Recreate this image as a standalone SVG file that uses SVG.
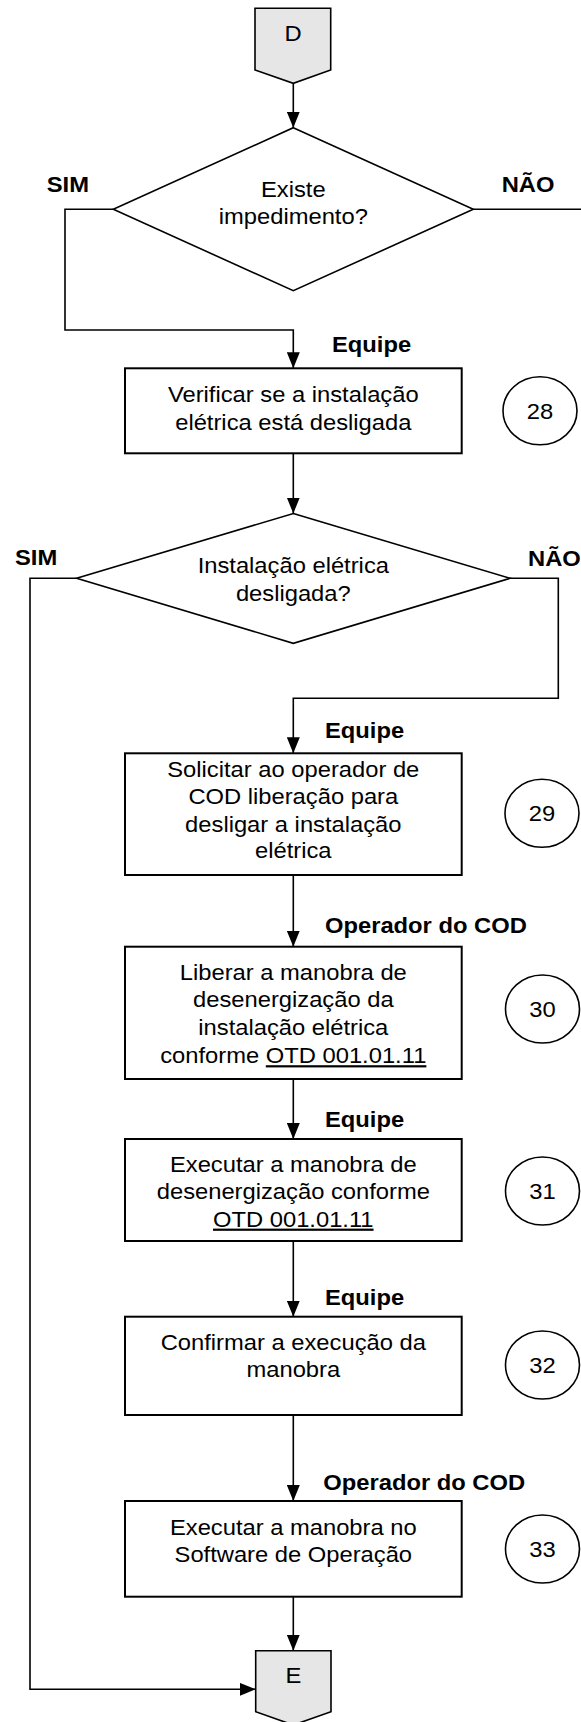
<svg xmlns="http://www.w3.org/2000/svg" width="581" height="1722" viewBox="0 0 581 1722">
<style>
.bg{fill:#ffffff}
.box{fill:#ffffff;stroke:#000;stroke-width:2}
.dia{fill:#ffffff;stroke:#000;stroke-width:1.6}
.off{fill:#e6e6e6;stroke:#000;stroke-width:1.6}
.num{fill:#ffffff;stroke:#000;stroke-width:1.6}
.ln{fill:none;stroke:#000;stroke-width:1.6}
.t{font-family:"Liberation Sans",Arial,sans-serif;font-size:22px;fill:#000;text-anchor:middle}
.b{font-family:"Liberation Sans",Arial,sans-serif;font-size:22px;font-weight:bold;fill:#000}
.u{text-decoration:underline}
</style>
<defs>
<marker id="ah" markerUnits="userSpaceOnUse" markerWidth="16" markerHeight="13" refX="16" refY="6.5" orient="auto">
<path d="M0,0 L16,6.5 L0,13 Z" fill="#000"/>
</marker>
</defs>
<rect class="bg" x="0" y="0" width="581" height="1722"/>

<g id="connectors">
<path class="ln" d="M293.3,83.3 V127.7" marker-end="url(#ah)"/>
<path class="ln" d="M113.3,209.3 H65 V330 H293.3 V368.3" marker-end="url(#ah)"/>
<path class="ln" d="M473.3,209.3 H581"/>
<path class="ln" d="M293.3,453.3 V513.5" marker-end="url(#ah)"/>
<path class="ln" d="M510,578.3 H558.3 V698.3 H293.3 V753.3" marker-end="url(#ah)"/>
<path class="ln" d="M293.3,875 V946.7" marker-end="url(#ah)"/>
<path class="ln" d="M293.3,1079 V1139" marker-end="url(#ah)"/>
<path class="ln" d="M293.3,1241 V1316.7" marker-end="url(#ah)"/>
<path class="ln" d="M293.3,1415 V1501" marker-end="url(#ah)"/>
<path class="ln" d="M293.3,1596.7 V1650.7" marker-end="url(#ah)"/>
<path class="ln" d="M76.6,578.3 H30 V1689.3 H255.7" marker-end="url(#ah)"/>
</g>

<g id="labels">
<text class="b" transform="translate(46.7 0) scale(1.08 1)" x="0" y="192">SIM</text>
<text class="b" transform="translate(501.7 0) scale(1.08 1)" x="0" y="192">NÃO</text>
<text class="b" transform="translate(15 0) scale(1.08 1)" x="0" y="565">SIM</text>
<text class="b" transform="translate(528 0) scale(1.08 1)" x="0" y="566">NÃO</text>
<text class="b" transform="translate(332 0) scale(1.08 1)" x="0" y="351.7">Equipe</text>
<text class="b" transform="translate(325 0) scale(1.08 1)" x="0" y="738.3">Equipe</text>
<text class="b" transform="translate(325 0) scale(1.08 1)" x="0" y="933.3">Operador do COD</text>
<text class="b" transform="translate(325 0) scale(1.08 1)" x="0" y="1126.7">Equipe</text>
<text class="b" transform="translate(325 0) scale(1.08 1)" x="0" y="1305">Equipe</text>
<text class="b" transform="translate(323.3 0) scale(1.08 1)" x="0" y="1490">Operador do COD</text>
</g>

<g id="D">
<path class="off" d="M255,8.3 H330.7 V70 L293.3,83.3 L255,70 Z"/>
<text class="t" transform="translate(293 0) scale(1.08 1)" x="0" y="40.7">D</text>
</g>

<g id="dec1">
<path class="dia" d="M293.3,127.7 L473.3,209.3 L293.3,290.7 L113.3,209.3 Z"/>
<text class="t" transform="translate(293.3 0) scale(1.08 1)"><tspan x="0" y="196.7">Existe</tspan><tspan x="0" y="224">impedimento?</tspan></text>
</g>

<g id="step28">
<rect class="box" x="125" y="368.3" width="336.7" height="85"/>
<text class="t" transform="translate(293.3 0) scale(1.08 1)"><tspan x="0" y="402.3">Verificar se a instalação</tspan><tspan x="0" y="429.7">elétrica está desligada</tspan></text>
</g>
<g id="n28">
<ellipse class="num" cx="540" cy="410.8" rx="37" ry="34"/>
<text class="t" transform="translate(540 0) scale(1.08 1)" x="0" y="418.8">28</text>
</g>

<g id="dec2">
<path class="dia" d="M293.3,513.5 L510,578.3 L293.3,643.3 L76.6,578.3 Z"/>
<text class="t" transform="translate(293.3 0) scale(1.08 1)"><tspan x="0" y="573.3">Instalação elétrica</tspan><tspan x="0" y="601">desligada?</tspan></text>
</g>

<g id="step29">
<rect class="box" x="125" y="753.3" width="336.7" height="121.7"/>
<text class="t" transform="translate(293.3 0) scale(1.08 1)"><tspan x="0" y="776.7">Solicitar ao operador de</tspan><tspan x="0" y="804">COD liberação para</tspan><tspan x="0" y="831.7">desligar a instalação</tspan><tspan x="0" y="858.3">elétrica</tspan></text>
</g>
<g id="n29">
<ellipse class="num" cx="542" cy="813.3" rx="37" ry="34"/>
<text class="t" transform="translate(542 0) scale(1.08 1)" x="0" y="821.3">29</text>
</g>

<g id="step30">
<rect class="box" x="125" y="946.7" width="336.7" height="132.3"/>
<text class="t" transform="translate(293.3 0) scale(1.08 1)"><tspan x="0" y="980">Liberar a manobra de</tspan><tspan x="0" y="1007.3">desenergização da</tspan><tspan x="0" y="1035">instalação elétrica</tspan><tspan x="0" y="1063.3">conforme <tspan class="u">OTD 001.01.11</tspan></tspan></text>
</g>
<g id="n30">
<ellipse class="num" cx="542.5" cy="1009" rx="37" ry="34"/>
<text class="t" transform="translate(542.5 0) scale(1.08 1)" x="0" y="1017">30</text>
</g>

<g id="step31">
<rect class="box" x="125" y="1139" width="336.7" height="102"/>
<text class="t" transform="translate(293.3 0) scale(1.08 1)"><tspan x="0" y="1171.7">Executar a manobra de</tspan><tspan x="0" y="1199.3">desenergização conforme</tspan><tspan x="0" y="1226.7" class="u">OTD 001.01.11</tspan></text>
</g>
<g id="n31">
<ellipse class="num" cx="542.5" cy="1191" rx="37" ry="34"/>
<text class="t" transform="translate(542.5 0) scale(1.08 1)" x="0" y="1199">31</text>
</g>

<g id="step32">
<rect class="box" x="125" y="1316.7" width="336.7" height="98.3"/>
<text class="t" transform="translate(293.3 0) scale(1.08 1)"><tspan x="0" y="1350">Confirmar a execução da</tspan><tspan x="0" y="1376.7">manobra</tspan></text>
</g>
<g id="n32">
<ellipse class="num" cx="542.5" cy="1365" rx="37" ry="34"/>
<text class="t" transform="translate(542.5 0) scale(1.08 1)" x="0" y="1373">32</text>
</g>

<g id="step33">
<rect class="box" x="125" y="1501" width="336.7" height="95.7"/>
<text class="t" transform="translate(293.3 0) scale(1.08 1)"><tspan x="0" y="1535">Executar a manobra no</tspan><tspan x="0" y="1561.7">Software de Operação</tspan></text>
</g>
<g id="n33">
<ellipse class="num" cx="542.5" cy="1549" rx="37" ry="34"/>
<text class="t" transform="translate(542.5 0) scale(1.08 1)" x="0" y="1557">33</text>
</g>

<g id="E">
<path class="off" d="M255.7,1650.7 H331 V1711.7 L293.3,1725 L255.7,1711.7 Z"/>
<text class="t" transform="translate(293.3 0) scale(1.08 1)" x="0" y="1683.3">E</text>
</g>
</svg>
